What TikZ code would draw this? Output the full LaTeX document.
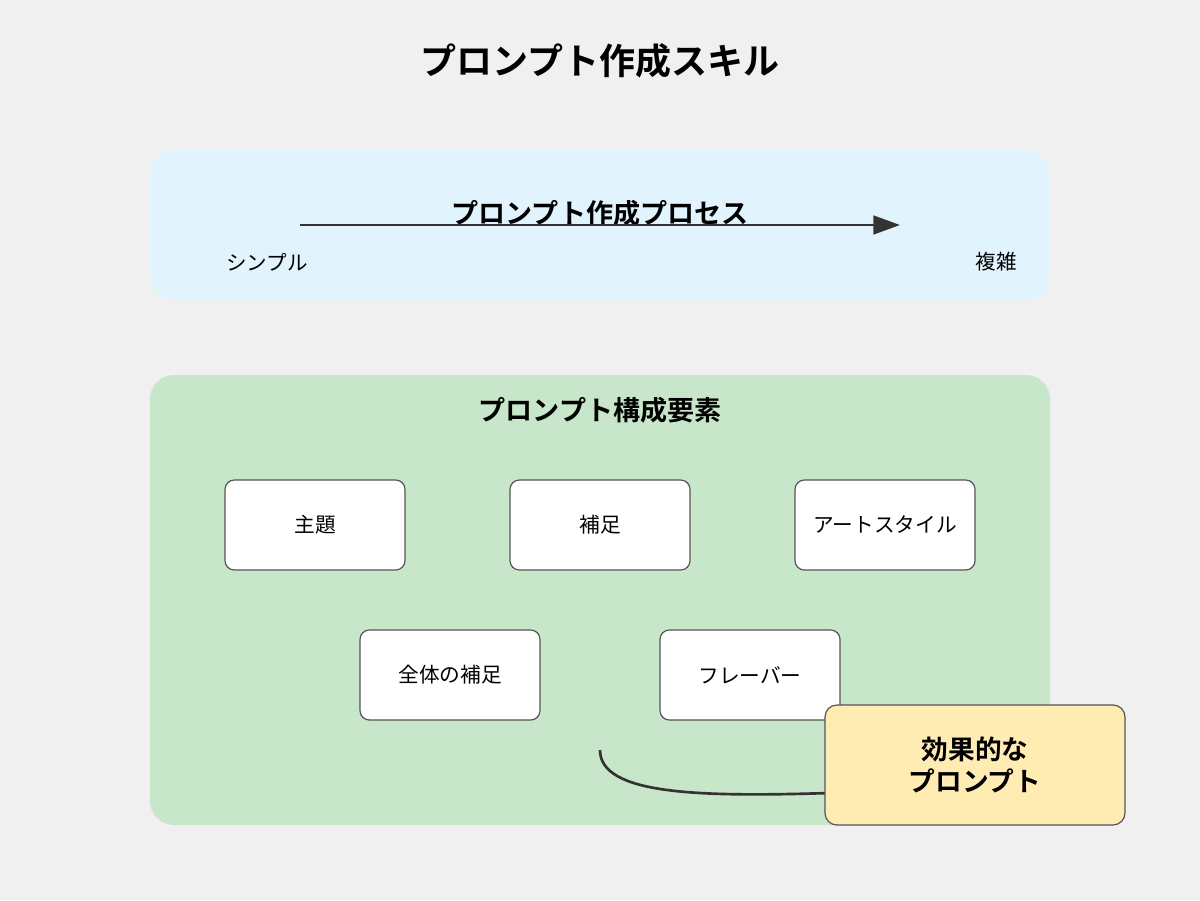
\documentclass[tikz,border=0pt]{standalone}
\usepackage{fontspec}
\setmainfont{Noto Sans CJK JP}
\newfontfamily\jpb{Noto Sans CJK JP Bold}
\usetikzlibrary{arrows.meta}
\definecolor{bg}{HTML}{F0F0F0}
\definecolor{bluebg}{HTML}{E1F3FC}
\definecolor{greenbg}{HTML}{C8E6C9}
\definecolor{yellowbg}{HTML}{FFECB3}
\definecolor{edge}{HTML}{333333}
\definecolor{bord}{HTML}{555555}
\tikzset{
  panel/.style={rounded corners=18pt, draw=none, minimum width=675pt, inner sep=0pt},
  item/.style={draw=bord, line width=0.9pt, fill=white, rounded corners=7pt, minimum width=135pt, minimum height=67.5pt, font=\fontsize{15.5pt}{18pt}\selectfont, inner sep=0pt},
  goal/.style={draw=bord, line width=0.9pt, fill=yellowbg, rounded corners=9pt, minimum width=225pt, minimum height=90pt, font=\jpb\fontsize{20pt}{24pt}\selectfont, align=center, inner sep=0pt},
  conn/.style={draw=edge, line width=2pt},
  lbl/.style={font=\fontsize{15.4pt}{18pt}\selectfont, inner sep=0pt},
  hdr/.style={font=\jpb\fontsize{20.3pt}{24pt}\selectfont, inner sep=0pt},
}
\begin{document}
\begin{tikzpicture}[x=0.75pt,y=-0.75pt]
\fill[bg] (0,0) rectangle (1200,900);
\useasboundingbox (0,0) rectangle (1200,900);
\node[font=\jpb\fontsize{27pt}{32pt}\selectfont, inner sep=0pt] (title) at (600,61) {プロンプト作成スキル};
% process panel
\node[panel, fill=bluebg, minimum height=112.5pt] (proc) at (600,225) {};
\node[hdr] (proclbl) at (600,213) {プロンプト作成プロセス};
\coordinate (pstart) at (300,225);
\coordinate (pend) at (900,225);
\draw[conn, -{Triangle[length=20pt,width=14pt]}] (pstart) -- (pend);
\node[lbl] (simple) at (267,262) {シンプル};
\node[lbl] (complex) at (996,262) {複雑};
% components panel
\node[panel, fill=greenbg, minimum height=337.5pt] (comp) at (600,600) {};
\node[hdr] (complbl) at (600,410) {プロンプト構成要素};
\node[item] (theme) at (315,525) {主題};
\node[item] (supp) at (600,525) {補足};
\node[item] (art) at (885,525) {アートスタイル};
\node[item] (whole) at (450,675) {全体の補足};
\node[item] (flavor) at (750,675) {フレーバー};
\coordinate (cstart) at (600,750);
\coordinate (cend) at (830,793);
\draw[conn] (cstart) .. controls (600,795) and (700,797) .. (cend);
\node[goal] (eff) at (975,765) {効果的な\\プロンプト};
\end{tikzpicture}
\end{document}
